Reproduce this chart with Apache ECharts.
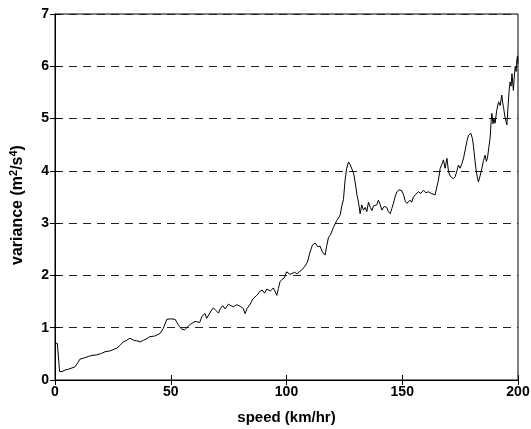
<!DOCTYPE html>
<html>
<head>
<meta charset="utf-8">
<script src="https://cdn.jsdelivr.net/npm/echarts@6/dist/echarts.min.js"></script>
<style>html,body{margin:0;padding:0;background:#fff;}#c{width:531px;height:429px;}</style>
</head>
<body>
<div id="c"></div>
<script>
const speed = [0,1.0,1.8,2.0,3.0,4.3,6,8.6,10,10.8,12.5,14.4,16,18,20.2,21,21.6,24,26.7,28,29.5,31,32.4,34,35.3,36.8,38.2,40,41,43,45.4,46.8,48.3,50,51.9,53.3,54.8,56,58.3,60.5,62.5,63.5,64.8,65.5,66.3,67.7,68.4,69.5,70.6,71.5,72.5,73.5,74.9,76,77.1,78.5,80,81.3,82.1,83,84.3,85.5,87.2,88.6,89.5,90.5,91.5,93,94.3,95,95.8,96.5,97.2,98,99,100.1,100.8,101.5,102.3,103.5,104.5,105.5,106.5,108,109,110.2,111.2,112.4,113.5,114.5,115.5,116.7,117.3,118.1,119,120.3,121.7,122.5,123.2,124,124.6,125.3,126,126.8,127.5,128.2,129,129.6,130.4,131.1,131.8,132.5,133.2,134,134.7,135.4,136.2,136.9,137.6,138.3,139,139.7,140.5,141.2,142.2,143.3,144,144.8,145.5,146.2,147,147.7,148.7,149.8,150.5,151.3,152,152.7,153.4,154.1,154.8,155.8,157,158,159.2,160.2,161.3,162.5,164.2,165,165.6,166.4,167.1,167.8,168.5,169.3,170,170.7,171.4,172.1,172.9,173.6,174.3,175,175.8,176.5,177.2,178,178.6,179.6,180.3,180.8,181.4,181.9,182.4,182.9,183.6,184.4,185.1,185.8,186.3,186.8,187.4,188,188.4,188.7,189.2,189.6,190.1,190.8,191.6,192.3,193,193.4,193.7,194.3,194.8,195.2,195.8,196.2,196.6,197,197.4,197.7,198,198.4,198.8,199.2,199.5,199.8,200];
const variance = [0.71,0.70,0.68,0.16,0.16,0.19,0.21,0.25,0.34,0.40,0.42,0.45,0.47,0.48,0.51,0.48,0.54,0.56,0.61,0.66,0.73,0.76,0.80,0.76,0.75,0.73,0.76,0.80,0.83,0.84,0.89,0.99,1.16,1.17,1.16,1.05,0.97,0.96,1.06,1.12,1.10,1.22,1.27,1.18,1.15,1.34,1.38,1.33,1.28,1.37,1.42,1.36,1.45,1.42,1.40,1.44,1.41,1.37,1.27,1.37,1.45,1.55,1.62,1.70,1.72,1.66,1.74,1.70,1.76,1.70,1.62,1.75,1.88,1.92,1.95,2.07,2.10,2.02,2.00,2.06,2.03,2.07,2.10,2.18,2.25,2.45,2.58,2.62,2.55,2.56,2.45,2.39,2.55,2.72,2.78,2.92,3.05,3.10,3.16,3.35,3.45,3.82,4.05,4.17,4.12,4.15,3.95,3.80,3.55,3.40,3.18,3.35,3.25,3.30,3.22,3.40,3.30,3.24,3.33,3.30,3.35,3.44,3.35,3.25,3.32,3.30,3.22,3.18,3.28,3.38,3.52,3.60,3.64,3.62,3.55,3.42,3.38,3.35,3.44,3.40,3.50,3.55,3.60,3.57,3.63,3.58,3.60,3.57,3.54,3.70,3.82,4.05,4.12,4.21,4.05,4.24,3.98,3.90,3.92,3.85,3.89,4.00,4.11,4.05,4.14,4.25,4.40,4.58,4.68,4.72,4.62,4.46,4.20,4.02,3.88,3.79,3.90,4.05,4.20,4.30,4.18,4.24,4.45,4.65,4.95,5.10,4.90,5.00,4.91,5.15,5.32,5.25,5.45,5.30,5.23,5.05,4.95,4.88,5.30,5.55,5.70,5.62,5.86,5.70,5.54,5.80,6.00,5.90,6.12,6.20,6.05];
const xTicks = [0,50,100,150,200];
const yTicks = [0,1,2,3,4,5,6,7];

const chart = echarts.init(document.getElementById('c'), null, {renderer:'canvas'});
const font = 'Arial, "Liberation Sans", Helvetica, sans-serif';
const lbl = {color:'#000', fontFamily:font, fontSize:14, fontWeight:'bold'};
chart.setOption({
  animation:false,
  backgroundColor:'#fff',
  grid:{left:55, right:13, top:14, bottom:49, containLabel:false, outerBoundsMode:'none',
    show:true, borderColor:'#000', borderWidth:1},
  xAxis:[{
    type:'value', min:xTicks[0], max:xTicks[xTicks.length-1], interval:50,
    name:'speed (km/hr)', nameLocation:'middle', nameGap:30,
    nameTextStyle:{color:'#000', fontFamily:font, fontSize:15, fontWeight:'bold'},
    axisLine:{show:true, lineStyle:{color:'#000', width:1}},
    axisTick:{show:true, inside:true, length:5, lineStyle:{color:'#000'}},
    axisLabel:Object.assign({margin:5}, lbl),
    splitLine:{show:false}
  },{
    type:'value', position:'top', min:0, max:200, interval:50,
    axisLine:{show:true, lineStyle:{color:'#000'}},
    axisTick:{show:true, inside:true, length:5, lineStyle:{color:'#000'}},
    axisLabel:{show:false}, splitLine:{show:false}
  }],
  yAxis:[{
    type:'value', min:yTicks[0], max:yTicks[yTicks.length-1], interval:1,
    name:'variance (m{sup|2}/s{sup|4})', nameLocation:'middle', nameGap:28, nameRotate:90,
    nameTextStyle:{color:'#000', fontFamily:font, fontSize:16, fontWeight:'bold', padding:[0,16,0,0],
      rich:{sup:{fontSize:11, fontWeight:'bold', fontFamily:font, color:'#000', padding:[0,0,8,0]}}},
    axisLine:{show:true, lineStyle:{color:'#000', width:1}},
    axisTick:{show:true, inside:true, length:5, lineStyle:{color:'#000'}},
    axisLabel:Object.assign({margin:6}, lbl),
    splitLine:{show:true, lineStyle:{color:'#222', width:1, type:[8,6]}},
    splitArea:{show:false}
  },{
    type:'value', position:'right', min:0, max:7, interval:1,
    axisLine:{show:true, lineStyle:{color:'#000'}},
    axisTick:{show:true, inside:true, length:5, lineStyle:{color:'#000'}},
    axisLabel:{show:false}, splitLine:{show:false}
  }],
  series:[{
    type:'line', xAxisIndex:0, yAxisIndex:0,
    data: speed.map((s,i)=>[s, variance[i]]),
    showSymbol:false, smooth:false,
    lineStyle:{color:'#000', width:1},
    z:5
  }]
});
</script>
</body>
</html>
